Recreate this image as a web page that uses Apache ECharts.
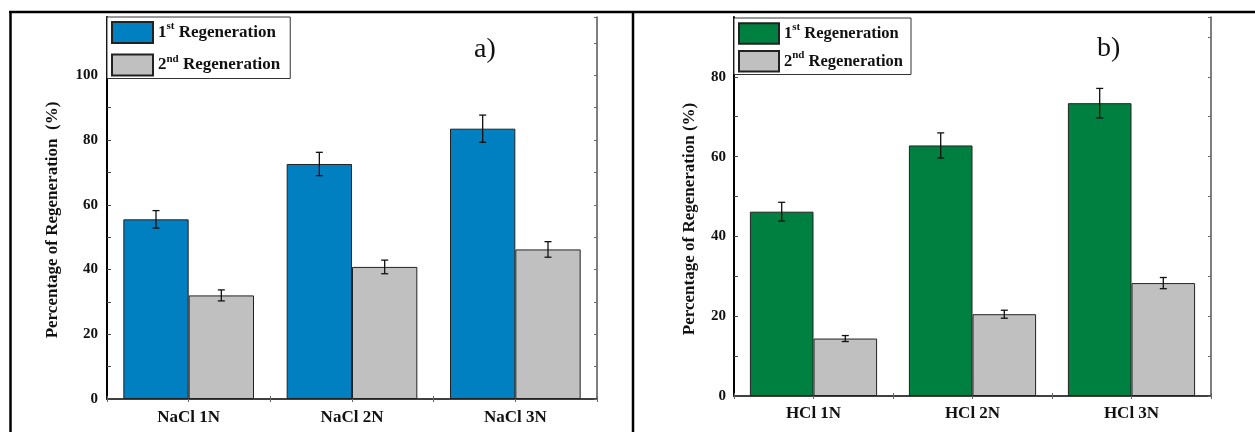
<!DOCTYPE html>
<html>
<head>
<meta charset="utf-8">
<script src="https://cdn.jsdelivr.net/npm/echarts@6/dist/echarts.min.js"></script>
<style>
  html, body { margin: 0; padding: 0; background: #fff; }
  #chart { width: 1255px; height: 432px; }
</style>
</head>
<body>
<div id="chart"></div>
<script>
// Regeneration efficiency after NaCl and HCl treatment (mean ± error)
const naclCategories = ['NaCl 1N', 'NaCl 2N', 'NaCl 3N'];
const nacl1st = [55.5, 72.6, 83.5];
const nacl1stErr = [2.7, 3.6, 4.2];
const nacl2nd = [32.0, 40.8, 46.2];
const nacl2ndErr = [1.7, 2.1, 2.4];

const hclCategories = ['HCl 1N', 'HCl 2N', 'HCl 3N'];
const hcl1st = [46.2, 62.8, 73.4];
const hcl1stErr = [2.35, 3.15, 3.7];
const hcl2nd = [14.4, 20.5, 28.3];
const hcl2ndErr = [0.75, 1.0, 1.4];

const yTicksA = [0, 20, 40, 60, 80, 100];
const yTicksB = [0, 20, 40, 60, 80];
const yTitleA = 'Percentage of Regeneration  (%)';
const yTitleB = 'Percentage of Regeneration (%)';

const SERIF = 'Liberation Serif';
const BLUE = '#0080c0';
const GREEN = '#008040';
const GREY = '#c0c0c0';

const chart = echarts.init(document.getElementById('chart'), null, { renderer: 'canvas' });

function errorBars(xIdx, yIdx, values, errs, shift) {
  return {
    type: 'custom',
    xAxisIndex: xIdx,
    yAxisIndex: yIdx,
    z: 5,
    silent: true,
    data: values.map((v, i) => [i, v, errs[i]]),
    encode: { x: 0, y: 1 },
    renderItem: function (params, api) {
      const c = api.value(0), v = api.value(1), e = api.value(2);
      const hi = api.coord([c, v + e]);
      const lo = api.coord([c, v - e]);
      const bw = api.size([1, 0])[0];
      const x = hi[0] + shift * bw;
      const cap = 3.5;
      const st = { stroke: '#111', lineWidth: 1.3 };
      return {
        type: 'group',
        children: [
          { type: 'line', shape: { x1: x, y1: hi[1], x2: x, y2: lo[1] }, style: st },
          { type: 'line', shape: { x1: x - cap, y1: hi[1], x2: x + cap, y2: hi[1] }, style: st },
          { type: 'line', shape: { x1: x - cap, y1: lo[1], x2: x + cap, y2: lo[1] }, style: st }
        ]
      };
    }
  };
}

function legendRich(size) {
  return {
    n: { fontFamily: SERIF, fontWeight: 'bold', fontSize: size, color: '#111' },
    s: { fontFamily: SERIF, fontWeight: 'bold', fontSize: Math.round(size * 0.65), color: '#111', padding: [0, 0, 12, 0] }
  };
}
function legendText(name) {
  if (name.indexOf('1st') >= 0) return '{n|1}{s|st}{n| Regeneration}';
  return '{n|2}{s|nd}{n| Regeneration}';
}

function valueAxis(gridIndex, max, ticks, nameText, nameGap, shiftDown, labelSize, margin) {
  return {
    type: 'value', gridIndex: gridIndex, min: 0, max: max, interval: 10,
    name: nameText, nameLocation: 'middle', nameGap: nameGap, nameRotate: 90,
    nameTextStyle: { fontFamily: SERIF, fontWeight: 'bold', fontSize: 17, color: '#111', padding: [0, shiftDown, 0, 0] },
    axisLine: { show: true, lineStyle: { color: '#000', width: 2 } },
    axisTick: { show: true, inside: true, length: 4, lineStyle: { color: '#444', width: 1 } },
    axisLabel: {
      fontFamily: SERIF, fontWeight: 'bold', fontSize: labelSize, color: '#111', margin: margin,
      showMaxLabel: false,
      formatter: v => (ticks.indexOf(v) >= 0 ? String(v) : '')
    },
    splitLine: { show: false }
  };
}
function frameYAxis(gridIndex, max) {
  return {
    type: 'value', gridIndex: gridIndex, min: 0, max: max, interval: 10, position: 'right',
    axisLine: { show: true, lineStyle: { color: '#555', width: 1.5 } },
    axisTick: { show: true, inside: true, length: 3, lineStyle: { color: '#666' } },
    axisLabel: { show: false }, splitLine: { show: false }
  };
}
function categoryAxis(gridIndex, cats, margin) {
  return {
    type: 'category', gridIndex: gridIndex, data: cats,
    axisLine: { show: true, lineStyle: { color: '#000', width: 2 } },
    axisTick: { show: true, inside: true, length: 3, lineStyle: { color: '#666' } },
    axisLabel: { fontFamily: SERIF, fontWeight: 'bold', fontSize: 17, color: '#111', margin: margin }
  };
}
function frameXAxis(gridIndex) {
  return {
    type: 'value', gridIndex: gridIndex, position: 'top', min: 0, max: 3, interval: 0.5,
    axisLine: { show: true, lineStyle: { color: '#555', width: 1.5 } },
    axisTick: { show: true, inside: true, length: 3, lineStyle: { color: '#666' } },
    axisLabel: { show: false }, splitLine: { show: false }
  };
}

function bars(name, xIdx, yIdx, data, color) {
  return {
    name: name, type: 'bar', xAxisIndex: xIdx, yAxisIndex: yIdx, data: data,
    barGap: '0%', barCategoryGap: '20%',
    itemStyle: { color: color, borderColor: '#222', borderWidth: 1 },
    emphasis: { disabled: true }
  };
}

const option = {
  animation: false,
  backgroundColor: '#fff',
  grid: [
    { left: 107, top: 17, width: 490, height: 382, show: false },
    { left: 734, top: 17, width: 477, height: 379, show: false }
  ],
  xAxis: [
    categoryAxis(0, naclCategories, 10),
    categoryAxis(1, hclCategories, 9),
    frameXAxis(0),
    frameXAxis(1)
  ],
  yAxis: [
    valueAxis(0, 118, yTicksA, yTitleA, 46, 24, 15, 9),
    valueAxis(1, 95, yTicksB, yTitleB, 36, 25, 15, 8),
    frameYAxis(0, 118),
    frameYAxis(1, 95)
  ],
  legend: [
    {
      data: ['NaCl 1st', 'NaCl 2nd'], orient: 'vertical', left: 107, top: 17,
      icon: 'rect',
      itemWidth: 41, itemHeight: 21, itemGap: 9.5, padding: [4, 10, 2, 4],
      borderColor: '#333', borderWidth: 1, backgroundColor: '#fff',
      formatter: legendText, textStyle: { rich: legendRich(17) }, selectedMode: false
    },
    {
      data: ['HCl 1st', 'HCl 2nd'], orient: 'vertical', left: 734, top: 18,
      icon: 'rect',
      itemWidth: 40, itemHeight: 20.5, itemGap: 5, padding: [4, 8, 2, 4],
      borderColor: '#333', borderWidth: 1, backgroundColor: '#fff',
      formatter: legendText, textStyle: { rich: legendRich(16.5) }, selectedMode: false
    }
  ],
  series: [
    bars('NaCl 1st', 0, 0, nacl1st, BLUE),
    bars('NaCl 2nd', 0, 0, nacl2nd, GREY),
    bars('HCl 1st', 1, 1, hcl1st, GREEN),
    bars('HCl 2nd', 1, 1, hcl2nd, GREY),
    errorBars(0, 0, nacl1st, nacl1stErr, -0.2),
    errorBars(0, 0, nacl2nd, nacl2ndErr, 0.2),
    errorBars(1, 1, hcl1st, hcl1stErr, -0.2),
    errorBars(1, 1, hcl2nd, hcl2ndErr, 0.2)
  ],
  graphic: [
    { type: 'line', shape: { x1: 9, y1: 12, x2: 1255, y2: 12 }, style: { stroke: '#000', lineWidth: 2.5 } },
    { type: 'line', shape: { x1: 10.5, y1: 11, x2: 10.5, y2: 432 }, style: { stroke: '#000', lineWidth: 2.5 } },
    { type: 'line', shape: { x1: 633, y1: 11, x2: 633, y2: 432 }, style: { stroke: '#000', lineWidth: 2.5 } },
    { type: 'text', left: 474, top: 36, style: { text: 'a)', fontFamily: SERIF, fontSize: 28, fill: '#111' } },
    { type: 'text', left: 1097, top: 35, style: { text: 'b)', fontFamily: SERIF, fontSize: 28, fill: '#111' } }
  ]
};

chart.setOption(option);
</script>
</body>
</html>
